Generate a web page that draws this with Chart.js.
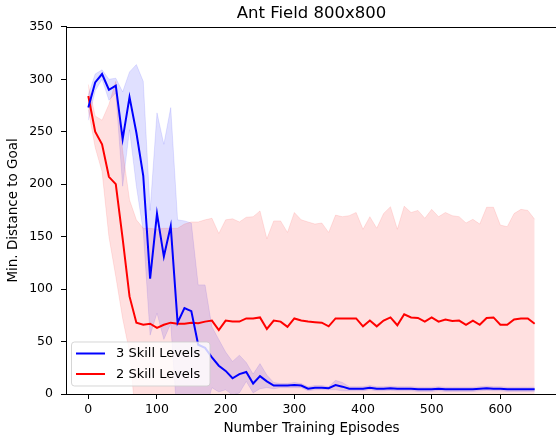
<!DOCTYPE html>
<html>
<head>
<meta charset="utf-8">
<script src="https://cdn.jsdelivr.net/npm/chart.js@4.4.0/dist/chart.umd.min.js"></script>
<style>
  html, body { margin: 0; padding: 0; background: #fff; overflow: hidden; }
  #wrap { position: relative; width: 556px; height: 437px; overflow: hidden; }
  canvas { display: block; }
</style>
</head>
<body>
<div id="wrap"><canvas id="chart" width="600" height="437"></canvas></div>
<script>
// episodes on the x axis
const episodes = [0, 10, 20, 30, 40, 50, 60, 70, 80, 90, 100, 110, 120, 130, 140, 150, 160, 170, 180, 190,
  200, 210, 220, 230, 240, 250, 260, 270, 280, 290, 300, 310, 320, 330, 340, 350, 360, 370, 380, 390,
  400, 410, 420, 430, 440, 450, 460, 470, 480, 490, 500, 510, 520, 530, 540, 550, 560, 570, 580, 590,
  600, 610, 620, 630, 640, 650];

// 3 skill levels (blue): mean and band
const threeMean = [273, 297, 305, 290, 294, 243, 283, 249, 208, 110,
  172, 131, 160, 68, 82, 79, 47, 44, 35, 27,
  22, 15, 19, 21, 10, 17, 12, 8, 8, 8,
  8.5, 8, 5, 6, 6, 5.5, 8.5, 7, 5, 5,
  5, 6, 5, 5, 5.5, 5, 5, 5, 4.5, 4.5,
  4.5, 5, 4.5, 4.5, 4.5, 4.5, 4.5, 5, 5.5, 5,
  5, 4.5, 4.5, 4.5, 4.5, 4.5];
const threeUpper = [285, 305, 309, 300, 301, 288, 307, 314, 298, 175,
  268, 238, 273, 166, 165, 163, 104, 104, 64, 52,
  40, 31, 37, 30, 19, 29, 18, 11, 10, 10,
  11, 10, 7, 8, 8, 7, 13, 11, 7, 7,
  7, 8, 7, 7, 7.5, 7, 7, 7, 6.5, 6.5,
  6.5, 7, 6.5, 6.5, 6.5, 6.5, 6.5, 7, 7.5, 7,
  7, 6.5, 6.5, 6.5, 6.5, 6.5];
const threeLower = [261, 289, 300, 280, 287, 198, 252, 198, 155, 56,
  77, 52, 67, -30, -5, -5, -10, -16, 6, 2,
  4, -1, 1, 12, 1, 5, 6, 5, 6, 6,
  6, 6, 3, 4, 4, 4, 4, 3, 3, 3,
  3, 4, 3, 3, 3.5, 3, 3, 3, 2.5, 2.5,
  2.5, 3, 2.5, 2.5, 2.5, 2.5, 2.5, 3, 3.5, 3,
  3, 2.5, 2.5, 2.5, 2.5, 2.5];

// 2 skill levels (red): mean and band
const twoMean = [284, 250, 238, 207, 200, 148, 93, 68, 66, 67,
  63, 66, 68, 67, 67, 68, 67.5, 69, 70, 61,
  70, 69, 69, 72, 72, 73, 62, 70, 69, 64,
  72, 70, 69, 68.5, 68, 64.5, 72, 72, 72, 72,
  64.5, 70, 64.5, 70, 73, 65.5, 76, 73, 72.5, 69,
  73, 69, 71, 69.5, 70, 66, 70, 66, 72.5, 73,
  66, 66, 71, 72, 72, 67];
const twoUpper = [295, 265, 261, 276, 298, 232, 185, 166, 158, 158,
  157, 158, 158, 158, 162, 164, 164, 166, 167.5, 153,
  166, 167, 164, 168.5, 169, 174.5, 148, 165, 165, 154,
  173, 166, 164, 162, 163, 154, 170.5, 169, 170, 173,
  157, 169, 158, 172, 178.5, 157, 179, 173, 175, 167.5,
  176, 169, 173, 170, 169, 163, 166.5, 162, 178, 178,
  161, 159.5, 172, 176, 175, 166.5];
const twoLower = [271, 235, 212, 150, 112, 72, 40, -30, -26, -24,
  -31, -26, -22, -24, -28, -28, -29, -28, -27, -31,
  -26, -29, -26, -25, -25, -28, -24, -25, -27, -26,
  -29, -26, -26, -25, -27, -25, -26, -25, -26, -29,
  -28, -29, -29, -32, -32, -26, -27, -27, -30, -29,
  -30, -31, -31, -31, -29, -31, -26, -30, -33, -32,
  -29, -27, -30, -32, -31, -32];

const xTicks = [0, 100, 200, 300, 400, 500, 600];
const yTicks = [0, 50, 100, 150, 200, 250, 300, 350];

const FONT = "'DejaVu Sans', sans-serif";

function pts(values) {
  return episodes.map((x, i) => ({ x: x, y: values[i] }));
}

// matplotlib-like legend box in the lower left corner and the top spine
const frameAndLegend = {
  id: 'frameAndLegend',
  afterDraw(chart) {
    const ctx = chart.ctx;
    const a = chart.chartArea;
    ctx.save();
    // top spine
    ctx.strokeStyle = '#000';
    ctx.lineWidth = 1;
    ctx.beginPath();
    ctx.moveTo(a.left, Math.round(a.top) + 0.5);
    ctx.lineTo(a.right, Math.round(a.top) + 0.5);
    ctx.stroke();

    // legend
    const items = chart.data.datasets.filter(d => d.showInLegend);
    const bx = a.left + 5.5, bw = 138.5, bh = 44;
    const by = a.bottom - 8 - bh;
    ctx.beginPath();
    ctx.roundRect(bx, by, bw, bh, 3);
    ctx.fillStyle = 'rgba(255,255,255,0.8)';
    ctx.fill();
    ctx.strokeStyle = 'rgba(204,204,204,0.8)';
    ctx.lineWidth = 1;
    ctx.stroke();
    ctx.font = '13px ' + FONT;
    ctx.textBaseline = 'middle';
    ctx.textAlign = 'left';
    items.forEach((d, i) => {
      const y = by + 11.5 + i * 20.5;
      ctx.strokeStyle = d.borderColor;
      ctx.lineWidth = 2;
      ctx.beginPath();
      ctx.moveTo(bx + 4.5, y);
      ctx.lineTo(bx + 33.5, y);
      ctx.stroke();
      ctx.fillStyle = '#000';
      ctx.fillText(d.label, bx + 44.5, y + 0.5);
    });
    ctx.restore();
  }
};

const ctx = document.getElementById('chart').getContext('2d');
const chart = new Chart(ctx, {
  type: 'line',
  data: {
    datasets: [
      { label: '3 Skill Levels', showInLegend: true, data: pts(threeMean), borderColor: '#0000ff', borderWidth: 2, pointRadius: 0, fill: false, tension: 0 },
      { label: '2 Skill Levels', showInLegend: true, data: pts(twoMean), borderColor: '#ff0000', borderWidth: 2, pointRadius: 0, fill: false, tension: 0 },
      { label: '', data: pts(twoUpper), borderColor: 'rgba(255,0,0,0.1)', backgroundColor: 'rgba(255,0,0,0.12)', borderWidth: 1, pointRadius: 0, fill: '+1', tension: 0, clip: 0 },
      { label: '', data: pts(twoLower), borderColor: 'rgba(255,0,0,0.1)', borderWidth: 1, pointRadius: 0, fill: false, tension: 0, clip: 0 },
      { label: '', data: pts(threeUpper), borderColor: 'rgba(0,0,255,0.1)', backgroundColor: 'rgba(0,0,255,0.12)', borderWidth: 1, pointRadius: 0, fill: '+1', tension: 0, clip: 0 },
      { label: '', data: pts(threeLower), borderColor: 'rgba(0,0,255,0.1)', borderWidth: 1, pointRadius: 0, fill: false, tension: 0, clip: 0 }
    ]
  },
  options: {
    responsive: false,
    animation: false,
    layout: { padding: { left: 0, right: 43, top: 0, bottom: 0 } },
    plugins: {
      legend: { display: false },
      tooltip: { enabled: false },
      title: {
        display: true,
        text: 'Ant Field 800x800',
        fullSize: false,
        color: '#000',
        font: { family: FONT, size: 16.5, weight: 'normal' },
        padding: { top: 4, bottom: 3 }
      }
    },
    scales: {
      x: {
        type: 'linear',
        min: -32.5,
        max: 682.5,
        afterBuildTicks: s => { s.ticks = xTicks.map(v => ({ value: v })); },
        afterFit: s => { s.height = 43; },
        grid: { drawOnChartArea: false, tickLength: 5, tickColor: '#000', tickWidth: 1 },
        border: { color: '#000', width: 1 },
        ticks: { color: '#000', font: { family: FONT, size: 12.5 }, padding: 3, maxRotation: 0, autoSkip: false },
        title: { display: true, text: 'Number Training Episodes', color: '#000', font: { family: FONT, size: 13.5 }, padding: { top: 0, bottom: 0 } }
      },
      y: {
        type: 'linear',
        min: 0,
        max: 350,
        afterBuildTicks: s => { s.ticks = yTicks.map(v => ({ value: v })); },
        afterFit: s => { s.width = 66; },
        grid: { drawOnChartArea: false, tickLength: 5, tickColor: '#000', tickWidth: 1 },
        border: { color: '#000', width: 1 },
        ticks: { color: '#000', font: { family: FONT, size: 12.5 }, padding: 8 },
        title: { display: true, text: 'Min. Distance to Goal', color: '#000', font: { family: FONT, size: 13.5 }, padding: { top: 5, bottom: 0 } }
      }
    }
  },
  plugins: [frameAndLegend]
});
</script>
</body>
</html>
